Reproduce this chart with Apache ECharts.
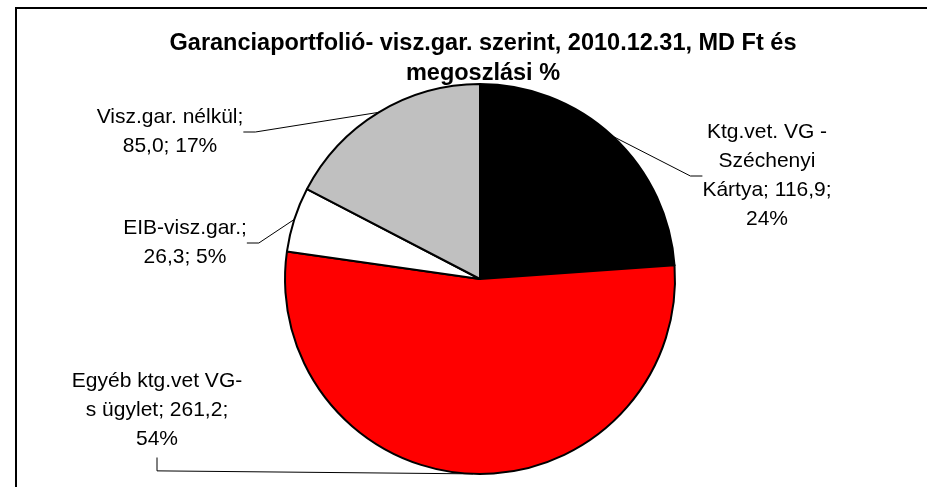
<!DOCTYPE html>
<html>
<head>
<meta charset="utf-8">
<script src="https://cdn.jsdelivr.net/npm/echarts@6/dist/echarts.min.js"></script>
<style>
  html, body { margin: 0; padding: 0; background: #fff; }
  #chart { width: 927px; height: 487px; }
</style>
</head>
<body>
<div id="chart"></div>
<script>
// adatok (MD Ft), sorrend: 12 órától az óramutató járásával
var categories = ['Ktg.vet. VG -\nSzéchenyi\nKártya', 'Egyéb ktg.vet VG-\ns ügylet', 'EIB-visz.gar.', 'Visz.gar. nélkül'];
var amounts = [116.9, 261.2, 26.3, 85.0];
var shares = [24, 54, 5, 17];
var sliceColors = ['#000000', '#ff0000', '#ffffff', '#c0c0c0'];
// címke tördelése: érték után (false) vagy név után (true)
var breakAfterName = [false, false, true, true];
// címkék középpontja
var labelPos = [[767, 176], [157, 410], [185, 243], [170, 132]];

var FONT = 'Liberation Sans, Arial, sans-serif';

var chart = echarts.init(document.getElementById('chart'), null, { renderer: 'canvas' });

var pieData = [];
for (var i = 0; i < categories.length; i++) {
    pieData.push({ name: categories[i], value: amounts[i], itemStyle: { color: sliceColors[i] } });
}

var option = {
    animation: false,
    backgroundColor: '#ffffff',
    title: {
        text: 'Garanciaportfolió- visz.gar. szerint, 2010.12.31, MD Ft és\nmegoszlási %',
        left: 478,
        top: 24,
        textAlign: 'center',
        textStyle: {
            fontFamily: FONT,
            fontSize: 23.5,
            fontWeight: 'bold',
            color: '#000',
            lineHeight: 30
        }
    },
    graphic: [{
        type: 'rect',
        shape: { x: 16, y: 8, width: 1000, height: 1000 },
        style: { fill: 'none', stroke: '#000', lineWidth: 2 },
        silent: true
    }],
    series: [{
        type: 'pie',
        center: [480, 279],
        radius: 195,
        startAngle: 90,
        clockwise: true,
        avoidLabelOverlap: false,
        data: pieData,
        itemStyle: { borderColor: '#000', borderWidth: 2 },
        label: {
            show: true,
            color: '#000',
            fontFamily: FONT,
            fontSize: 21,
            lineHeight: 29,
            align: 'center',
            formatter: function (p) {
                var i = p.dataIndex;
                var val = amounts[i].toFixed(1).replace('.', ',');
                if (breakAfterName[i])
                    return p.name + ';\n' + val + '; ' + shares[i] + '%';
                return p.name + '; ' + val + ';\n' + shares[i] + '%';
            }
        },
        labelLine: {
            show: true,
            length: 20,
            length2: 12,
            lineStyle: { color: '#000', width: 1 }
        },
        labelLayout: function (params) {
            var p = labelPos[params.dataIndex];
            var res = { x: p[0], y: p[1], align: 'center', verticalAlign: 'middle' };
            // a nagy szelet vezetővonala a címke alatt fut be
            if (params.dataIndex == 1 && params.labelLinePoints) {
                var a = params.labelLinePoints[0];
                var bottom = p[1] + params.labelRect.height / 2 + 4;
                res.labelLinePoints = [a, [p[0], a[1] - 3], [p[0], bottom]];
            }
            return res;
        }
    }]
};
chart.setOption(option);
</script>
</body>
</html>
